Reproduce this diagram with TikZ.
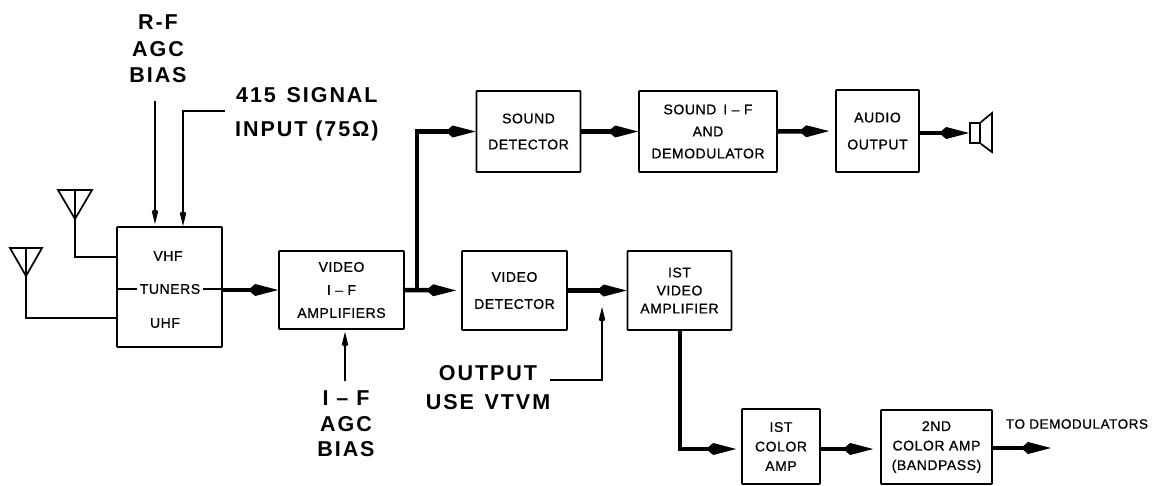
\documentclass[tikz,border=0pt]{standalone}
\usepackage{fontspec}
\usetikzlibrary{arrows.meta,calc}
\newfontfamily\smallf[FakeBold=0.8,LetterSpace=4]{Liberation Sans}
\newfontfamily\bigf[LetterSpace=9]{Liberation Sans Bold}
\newcommand{\labsmall}[1]{\smallf\fontsize{14}{#1}\selectfont}
\newcommand{\labtiny}[1]{\smallf\fontsize{13.5}{#1}\selectfont}
\newcommand{\labbig}[1]{\bigf\fontsize{21.5}{#1}\selectfont}
\tikzset{
  x=1pt,y=-1pt,
  blockbox/.style={draw=black,line width=1.7pt,inner sep=0pt,align=center,rounded corners=0.5pt},
  biglabel/.style={inner sep=0pt,align=center},
  bigline/.style={line width=4.5pt,-{Kite[length=30pt,width=12pt,inset=7pt]},line join=miter},
  plainthick/.style={line width=4.5pt,line join=miter},
  thinarrow/.style={line width=1.5pt,-{Kite[length=15pt,width=6.5pt,inset=2pt]}},
  thinline/.style={line width=1.7pt,line join=miter},
  tip/.style={shorten >=#1pt},
}
\begin{document}
\begin{tikzpicture}
\useasboundingbox (0,0) rectangle (1152,485);
% blocks
\node[blockbox,minimum width=105pt,minimum height=120pt] (tun) at (169.5,287) {};
\node[blockbox,minimum width=125pt,minimum height=78pt,font=\labsmall{23}] (vif) at (341.5,290) {VIDEO\\I – F\\AMPLIFIERS};
\node[blockbox,minimum width=104pt,minimum height=81pt,font=\labsmall{26}] (sdet) at (528.5,131.5) {SOUND\\DETECTOR};
\node[blockbox,minimum width=138pt,minimum height=81pt,font=\labsmall{22}] (sif) at (708,131.5) {SOUND\enspace I – F\\AND\\DEMODULATOR};
\node[blockbox,minimum width=83pt,minimum height=82pt,font=\labsmall{27}] (aud) at (877.5,131) {AUDIO\\OUTPUT};
\node[blockbox,minimum width=105pt,minimum height=79pt,font=\labsmall{27}] (vdet) at (514.5,290.5) {VIDEO\\DETECTOR};
\node[blockbox,minimum width=104pt,minimum height=79pt,font=\labsmall{18}] (vone) at (679.5,290.5) {IST\\VIDEO\\AMPLIFIER};
\node[blockbox,minimum width=78pt,minimum height=75pt,font=\labsmall{19.5}] (cone) at (781,446.5) {IST\\COLOR\\AMP};
\node[blockbox,minimum width=111pt,minimum height=74pt,font=\labsmall{19.5}] (ctwo) at (936.5,447) {2ND\\COLOR AMP\\(BANDPASS)};
% tuner inner labels
\node[inner sep=0pt,font=\labsmall{16}] (vhf) at (168,256) {VHF};
\node[inner sep=0pt,font=\labsmall{16}] (tuners) at (170,289) {TUNERS};
\node[inner sep=0pt,font=\labsmall{16}] (uhf) at (165,323) {UHF};
% big labels
\node[biglabel,font=\labbig{26.5}] (rf) at (158,49) {R-F\\AGC\\BIAS};
\node[biglabel,font=\labbig{34},anchor=west] (sig) at (235,114) {415\enspace SIGNAL\\INPUT (75Ω)};
\node[biglabel,font=\labbig{25.5}] (iflab) at (346,424) {I – F\\AGC\\BIAS};
\node[biglabel,font=\labbig{29}] (outlab) at (488,388) {OUTPUT\\USE\enspace VTVM};
\node[inner sep=0pt,font=\labtiny{16}] (todem) at (1077,424) {TO DEMODULATORS};
% coordinates
\coordinate (rfs) at (155,101);
\coordinate (sigs) at (225,111);
\coordinate (sigt) at (183,226);
\coordinate (ifs) at (345,381);
\coordinate (vs) at (550,380);
\coordinate (vt) at (602,307);
\coordinate (jn) at (417,0);
\coordinate (cv) at (680,449);
\coordinate (oute) at (1051,448);
% antennas
\coordinate (atop) at (75,190);
\coordinate (aap) at (75,219);
\coordinate (btop) at (26,248);
\coordinate (bap) at (26,276);
\draw[thinline] ($(atop)+(-17,0)$) -- ($(atop)+(17,0)$) -- (aap) -- cycle;
\draw[line width=1.2pt] (atop) -- (aap);
\draw[thinline] ($(btop)+(-16,0)$) -- ($(btop)+(16,0)$) -- (bap) -- cycle;
\draw[line width=1.2pt] (btop) -- (bap);
\draw[thinline] (aap) -- (75,257) -- (tun.west |- 75,257);
\draw[thinline] (bap) -- (26,318) -- (tun.west |- 26,318);
% tuner stubs
\draw[thinline] (tuners.west -| tun.west) -- ([xshift=-3pt]tuners.west);
\draw[thinline] ([xshift=3pt]tuners.east) -- (tuners.east -| tun.east);
% thin arrows
\draw[thinarrow,tip=2] (rfs) -- (rfs |- tun.north);
\draw[thinarrow] (sigs) -| (sigt);
\draw[thinarrow,tip=2] (ifs) -- (ifs |- vif.south);
\draw[thinarrow] (vs) -| (vt);
% speaker
\node[draw=black,line width=1.7pt,inner sep=0pt,minimum width=10pt,minimum height=20pt] (spk) at (975,133) {};
\draw[thinline] (spk.north east) -- (992,113) -- (992,152) -- (spk.south east);
% thick connectors
\draw[bigline] (vif.west -| tun.east) -- (vif.west);
\draw[bigline,tip=5] (vif.east) -- (vdet.west);
\draw[plainthick] (jn |- vif.east) -- (jn |- sdet.west) -- ([xshift=-28pt]sdet.west);
\draw[bigline] (jn |- sdet.west) -- (sdet.west);
\draw[bigline] (sdet.east) -- (sif.west);
\draw[bigline,tip=6] (sif.east) -- (aud.west);
\draw[bigline] (aud.east |- spk.west) -- (spk.west);
\draw[bigline] (vdet.east) -- (vone.west);
\draw[bigline,tip=5] (cv |- vone.south) -- (cv) -- (cone.west |- cv);
\draw[bigline,tip=7] (cone.east |- cv) -- (ctwo.west |- cv);
\draw[bigline] (ctwo.east |- oute) -- (oute);
\end{tikzpicture}
\end{document}
